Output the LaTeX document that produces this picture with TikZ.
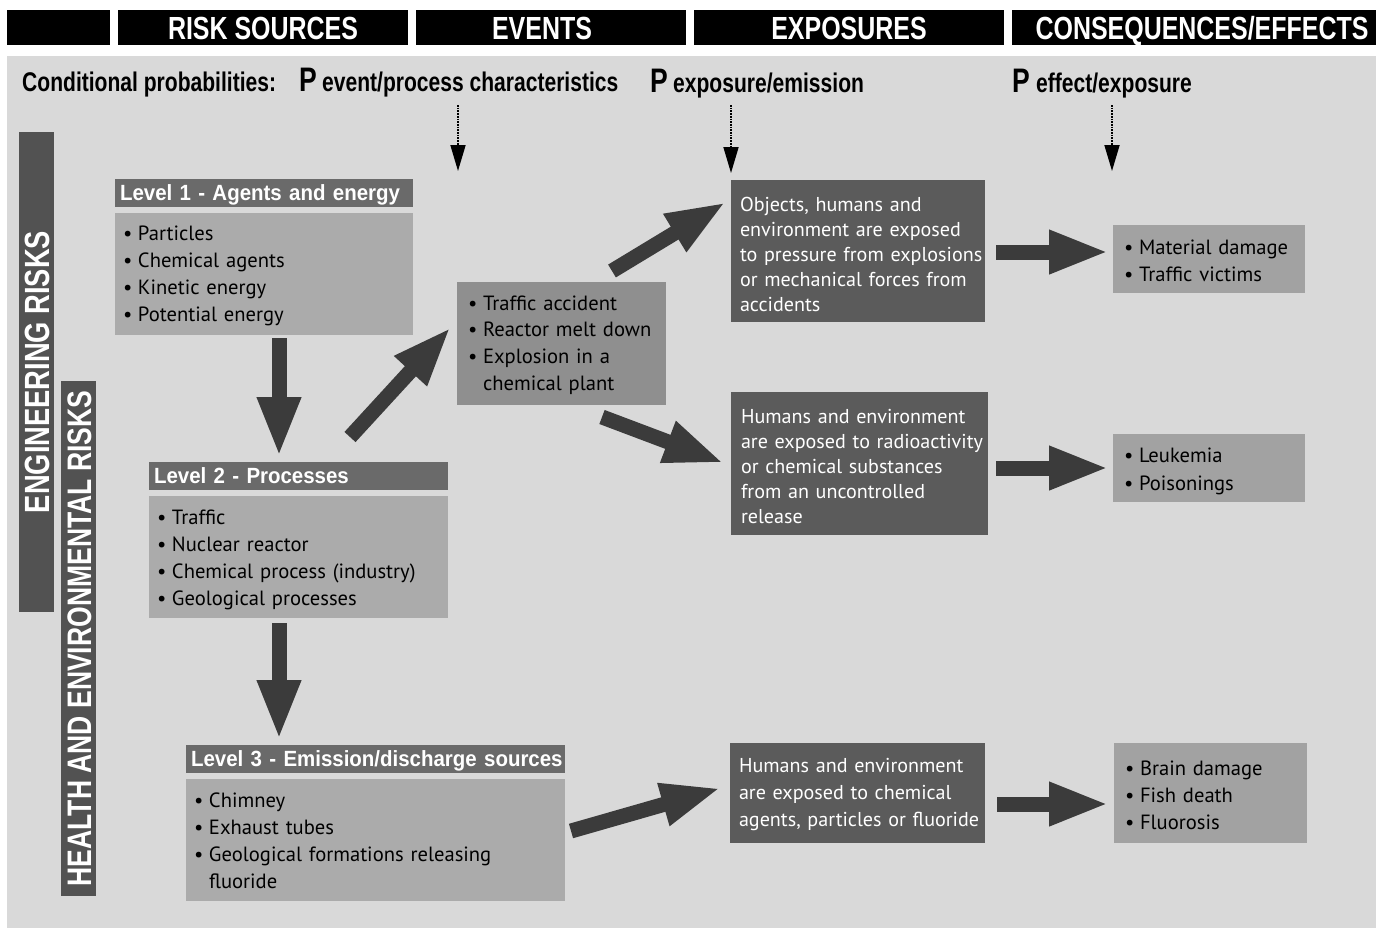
\documentclass[tikz,border=0pt]{standalone}
\usepackage{fontspec}
\setmainfont{PT Sans}
\newfontfamily\hdfont[FakeStretch=0.78]{Liberation Sans}
\newfontfamily\lvfont[FakeStretch=0.93]{Liberation Sans}
\usetikzlibrary{arrows.meta}
\definecolor{bg}{HTML}{D9D9D9}
\definecolor{vbar}{HTML}{525252}
\definecolor{lvhd}{HTML}{6A6A6A}
\definecolor{lvbody}{HTML}{ABABAB}
\definecolor{evbox}{HTML}{8F8F8F}
\definecolor{exbox}{HTML}{5B5B5B}
\definecolor{cqbox}{HTML}{A2A2A2}
\definecolor{arr}{HTML}{3B3B3B}
\newcommand\bul{\makebox[13pt][l]{\hspace*{-2pt}\textbullet}}
\newcommand\ind{\hspace*{13pt}}
\newcommand\lines[1]{\begin{tabular}[t]{@{}l@{}}#1\end{tabular}}
\tikzset{
  hbar/.style={fill=black,text=white,inner sep=0pt,minimum height=35pt,text height=23pt,text depth=0pt,
    font=\hdfont\bfseries\fontsize{32}{32}\selectfont},
  cond/.style={inner sep=0pt,anchor=base west,text=black,font=\hdfont\bfseries\fontsize{27}{27}\selectfont},
  bigp/.style={inner sep=0pt,anchor=base west,text=black,font=\hdfont\bfseries\fontsize{34}{34}\selectfont},
  vlab/.style={fill=vbar,text=white,inner sep=0pt,rotate=90,minimum height=35pt,text height=25pt,text depth=0pt},
  lvh/.style={fill=lvhd,text=white,inner xsep=5pt,inner ysep=0pt,text height=21.5pt,text depth=6.5pt,
    align=left,font=\lvfont\bfseries\fontsize{22}{24}\selectfont},
  lvb/.style={fill=lvbody,text=black,inner xsep=10pt,inner ysep=0pt,align=left,font=\fontsize{20.6}{27.3}\selectfont},
  evb/.style={fill=evbox,text=black,inner xsep=13pt,inner ysep=0pt,align=left,font=\fontsize{20.6}{26.8}\selectfont},
  exb/.style={fill=exbox,text=white,inner xsep=9pt,inner ysep=0pt,align=left,font=\fontsize{20.1}{25}\selectfont},
  cqb/.style={fill=cqbox,text=black,inner xsep=13pt,inner ysep=0pt,align=left,font=\fontsize{20.6}{27.3}\selectfont},
  bigarr/.style={draw=arr,line width=15pt,-{Triangle[length=60pt,width=40pt]}},
  dotarr/.style={draw=black,line width=1.7pt,densely dotted,-{Triangle[length=26pt,width=15pt]}}
}
\begin{document}
\begin{tikzpicture}[x=1pt,y=-1pt]
\useasboundingbox (0,0) rectangle (1376,930);
\fill[white] (0,0) rectangle (1376,930);
\fill[bg] (7,56) rectangle (1376,928);
% header bars
\node[hbar,minimum width=103pt] (h0) at (58.5,27.5) {};
\node[hbar,minimum width=290pt] (h1) at (263,27.5) {RISK SOURCES};
\node[hbar,minimum width=270pt] (h2) at (551,27.5) {\hspace*{-18pt}EVENTS};
\node[hbar,minimum width=310pt] (h3) at (849,27.5) {EXPOSURES};
\node[hbar,minimum width=364pt] (h4) at (1194,27.5) {\hspace*{16pt}CONSEQUENCES/EFFECTS};
% conditional probabilities
\node[cond] (cp) at (22,91) {Conditional probabilities:};
\node[bigp] (p1) at (299,91) {P};
\node[cond] (t1) at (322,91) {event/process characteristics};
\node[bigp] (p2) at (650,92) {P};
\node[cond] (t2) at (673,92) {exposure/emission};
\node[bigp] (p3) at (1012,92) {P};
\node[cond] (t3) at (1036,92) {effect/exposure};
\coordinate (d1s) at (458,105); \coordinate (d1e) at (458,171);
\coordinate (d2s) at (731,105); \coordinate (d2e) at (731,173);
\coordinate (d3s) at (1112,105); \coordinate (d3e) at (1112,171);
\draw[dotarr] (d1s) -- (d1e);
\draw[dotarr] (d2s) -- (d2e);
\draw[dotarr] (d3s) -- (d3e);
% vertical labels
\node[vlab,minimum width=480pt,font=\hdfont\bfseries\fontsize{35}{35}\selectfont] (eng) at (36.5,372) {ENGINEERING RISKS};
\node[vlab,minimum width=515pt,font=\hdfont\bfseries\fontsize{34}{34}\selectfont] (hen) at (78.5,638.5) {HEALTH AND ENVIRONMENTAL RISKS};
% level 1
\node[lvh,text width=288pt] (l1h) at (264,193) {\lines{Level 1 - Agents and energy}};
\node[lvb,text width=278pt,text height=27pt,text depth=95pt] (l1b) at (264,274)
  {\lines{\bul Particles\\ \bul Chemical agents\\ \bul Kinetic energy\\ \bul Potential energy}};
% level 2
\node[lvh,text width=289pt] (l2h) at (298.5,476) {\lines{Level 2 - Processes}};
\node[lvb,text width=279pt,text height=28pt,text depth=94pt] (l2b) at (298.5,557)
  {\lines{\bul Traffic\\ \bul Nuclear reactor\\ \bul Chemical process (industry)\\ \bul Geological processes}};
% level 3
\node[lvh,text width=369pt] (l3h) at (375.5,759) {\lines{Level 3 - Emission/discharge sources}};
\node[lvb,text width=359pt,text height=28pt,text depth=94pt] (l3b) at (375.5,840)
  {\lines{\bul Chimney\\ \bul Exhaust tubes\\ \bul Geological formations releasing\\ \ind fluoride}};
% events
\node[evb,text width=183pt,text height=28pt,text depth=95pt] (ev) at (561.5,343.5)
  {\lines{\bul Traffic accident\\ \bul Reactor melt down\\ \bul Explosion in a\\ \ind chemical plant}};
% exposures
\node[exb,text width=236pt,text height=31pt,text depth=111pt] (ex1) at (858,251)
  {\lines{Objects, humans and\\ environment are exposed\\ to pressure from explosions\\ or mechanical forces from\\ accidents}};
\node[exb,text width=237pt,text height=31pt,text depth=112pt,inner xsep=10pt] (ex2) at (859.5,463.5)
  {\lines{Humans and environment\\ are exposed to radioactivity\\ or chemical substances\\ from an uncontrolled\\ release}};
\node[exb,text width=237pt,text height=29pt,text depth=71pt,font=\fontsize{20.1}{27}\selectfont] (ex3) at (857.5,793)
  {\lines{Humans and environment\\ are exposed to chemical\\ agents, particles or fluoride}};
% consequences
\node[cqb,text width=166pt,text height=29pt,text depth=39pt] (cq1) at (1209,259)
  {\lines{\bul Material damage\\ \bul Traffic victims}};
\node[cqb,text width=166pt,text height=28pt,text depth=40pt,font=\fontsize{20.6}{28}\selectfont] (cq2) at (1209,468)
  {\lines{\bul Leukemia\\ \bul Poisonings}};
\node[cqb,text width=167pt,text height=32pt,text depth=68pt] (cq3) at (1210.5,793)
  {\lines{\bul Brain damage\\ \bul Fish death\\ \bul Fluorosis}};
% big arrows
\coordinate (a1s) at (279,338); \coordinate (a1e) at (279,457);
\coordinate (a2s) at (350,437); \coordinate (a2e) at (451,327);
\coordinate (a3s) at (279,623); \coordinate (a3e) at (279,740);
\coordinate (a4s) at (612,271); \coordinate (a4e) at (726,202);
\coordinate (a5s) at (602,417); \coordinate (a5e) at (724,463);
\coordinate (a6s) at (571,831); \coordinate (a6e) at (721,788);
\coordinate (a7s) at (996,252); \coordinate (a7e) at (1109,252);
\coordinate (a8s) at (996,468); \coordinate (a8e) at (1109,468);
\coordinate (a9s) at (997,804); \coordinate (a9e) at (1109,804);
\draw[bigarr] (a1s) -- (a1e);
\draw[bigarr] (a2s) -- (a2e);
\draw[bigarr] (a3s) -- (a3e);
\draw[bigarr] (a4s) -- (a4e);
\draw[bigarr] (a5s) -- (a5e);
\draw[bigarr] (a6s) -- (a6e);
\draw[bigarr] (a7s) -- (a7e);
\draw[bigarr] (a8s) -- (a8e);
\draw[bigarr] (a9s) -- (a9e);
\end{tikzpicture}
\end{document}
